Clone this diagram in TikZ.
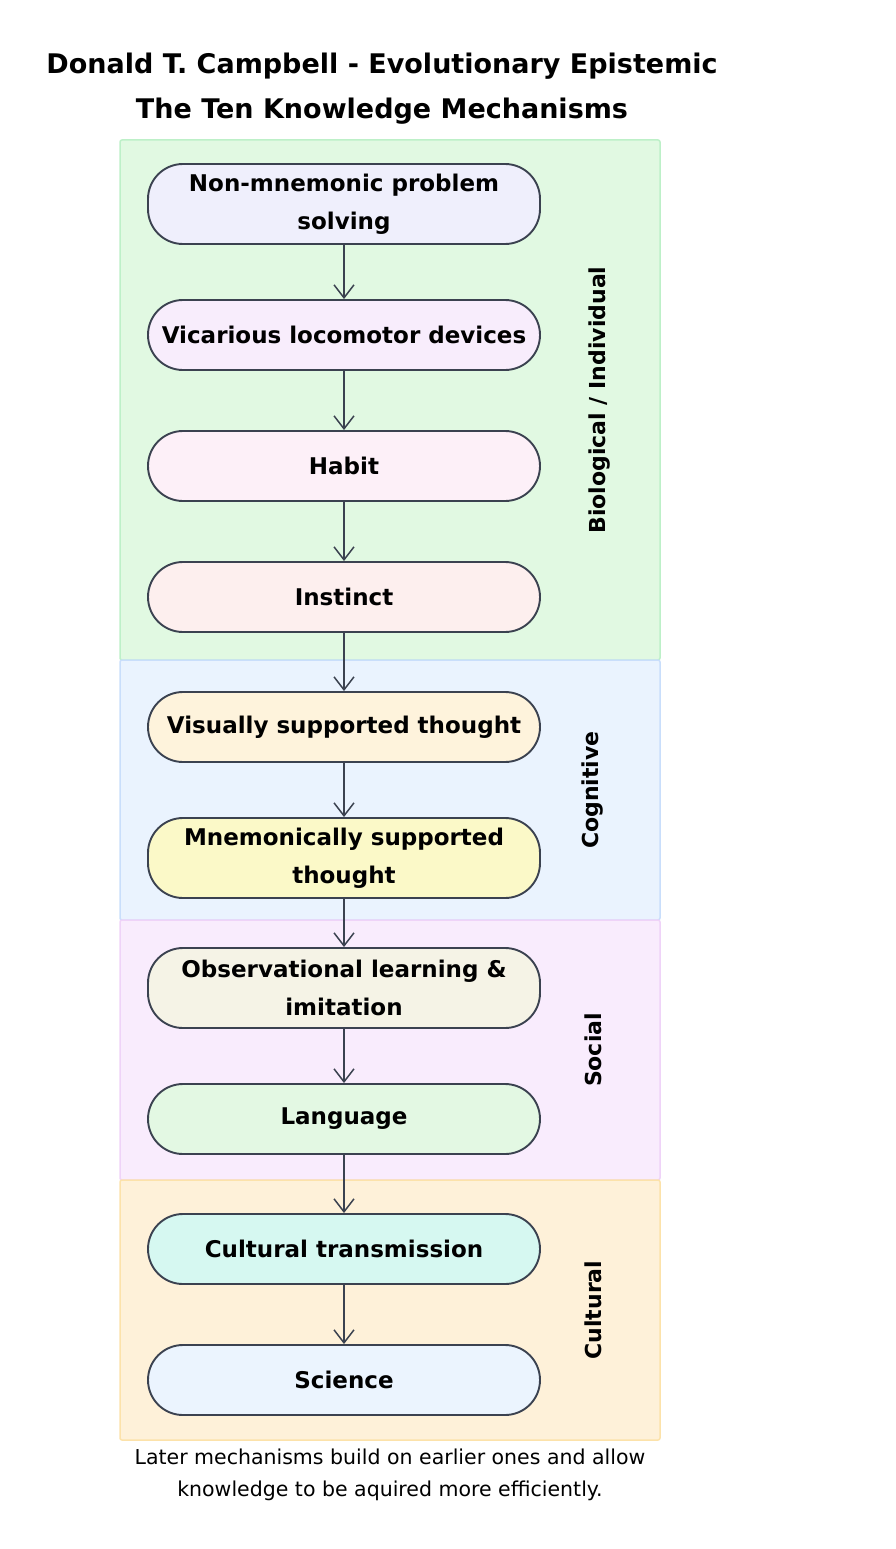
\documentclass[tikz,border=0pt]{standalone}
\usepackage{fontspec}
\setmainfont{DejaVu Sans}
\usetikzlibrary{arrows.meta}
\definecolor{edgegray}{HTML}{3B4250}
\definecolor{bioFill}{HTML}{E1F9E2}
\definecolor{bioLine}{HTML}{BDF0C8}
\definecolor{cogFill}{HTML}{EAF3FE}
\definecolor{cogLine}{HTML}{C9DEFB}
\definecolor{socFill}{HTML}{F9ECFD}
\definecolor{socLine}{HTML}{EFD3F8}
\definecolor{culFill}{HTML}{FEF1D9}
\definecolor{culLine}{HTML}{FCE2AA}
\definecolor{mOne}{HTML}{EFEFFC}
\definecolor{mTwo}{HTML}{F8EDFC}
\definecolor{mThree}{HTML}{FDF0F8}
\definecolor{mFour}{HTML}{FDEFEE}
\definecolor{mFive}{HTML}{FEF3DC}
\definecolor{mSix}{HTML}{FBF9C8}
\definecolor{mSeven}{HTML}{F5F3E6}
\definecolor{mEight}{HTML}{E3F8E3}
\definecolor{mNine}{HTML}{D6F8F1}
\definecolor{mTen}{HTML}{EBF4FE}
\begin{document}
\begin{tikzpicture}[x=1pt,y=-1pt,line width=1.6pt,
  mech/.style={draw=edgegray,line width=1.9pt,rounded corners=35pt,minimum width=392pt,minimum height=70pt,
    inner sep=2pt,align=center,font=\fontsize{23}{38}\selectfont\bfseries},
  link/.style={draw=edgegray,line width=1.5pt,-{Straight Barb[length=13pt,width=20pt]}},
  zone/.style={line width=1.5pt,rounded corners=2pt},
  zonelabel/.style={rotate=90,inner sep=0pt,font=\fontsize{22}{26}\selectfont\bfseries}]
\path[use as bounding box] (0,0) rectangle (896,1549);
% title
\node[anchor=center,inner sep=0pt,font=\fontsize{27}{34}\selectfont\bfseries] (title1) at (382,66) {Donald T. Campbell - Evolutionary Epistemic};
\node[anchor=center,inner sep=0pt,font=\fontsize{27}{34}\selectfont\bfseries] (title2) at (382,111) {The Ten Knowledge Mechanisms};
% groups
\draw[zone,fill=bioFill,draw=bioLine] (120,140) rectangle (660,660);
\draw[zone,fill=cogFill,draw=cogLine] (120,660) rectangle (660,920);
\draw[zone,fill=socFill,draw=socLine] (120,920) rectangle (660,1180);
\draw[zone,fill=culFill,draw=culLine] (120,1180) rectangle (660,1440);
\node[zonelabel] (bio) at (600,400) {Biological / Individual};
\node[zonelabel] (cog) at (593,790) {Cognitive};
\node[zonelabel] (soc) at (593,1050) {Social};
\node[zonelabel] (cul) at (593,1310) {Cultural};
% mechanisms
\node[mech,fill=mOne,minimum height=80pt] (m1) at (344,204) {Non-mnemonic problem\\solving};
\node[mech,fill=mTwo] (m2) at (344,335) {Vicarious locomotor devices};
\node[mech,fill=mThree] (m3) at (344,466) {Habit};
\node[mech,fill=mFour] (m4) at (344,597) {Instinct};
\node[mech,fill=mFive] (m5) at (344,727) {Visually supported thought};
\node[mech,fill=mSix,minimum height=80pt] (m6) at (344,858) {Mnemonically supported\\thought};
\node[mech,fill=mSeven,minimum height=80pt] (m7) at (344,988) {Observational learning \&\\imitation};
\node[mech,fill=mEight] (m8) at (344,1119) {Language};
\node[mech,fill=mNine] (m9) at (344,1249) {Cultural transmission};
\node[mech,fill=mTen] (m10) at (344,1380) {Science};
\foreach \a/\b in {m1/m2,m2/m3,m3/m4,m4/m5,m5/m6,m6/m7,m7/m8,m8/m9,m9/m10}
  \draw[link] (\a) -- (\b);
% note
\node[anchor=center,inner sep=0pt,align=center,font=\fontsize{20.5}{32}\selectfont] (note) at (390,1475) {Later mechanisms build on earlier ones and allow\\knowledge to be aquired more efficiently.};
\end{tikzpicture}
\end{document}
